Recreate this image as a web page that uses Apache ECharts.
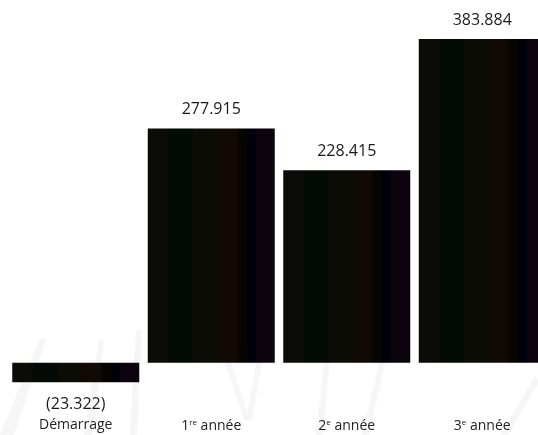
<!DOCTYPE html>
<html>
<head>
<meta charset="utf-8">
<script src="https://cdn.jsdelivr.net/npm/echarts@6/dist/echarts.min.js"></script>
<style>
  html, body { margin: 0; padding: 0; background: #ffffff; }
  #chart { width: 538px; height: 435px; }
</style>
</head>
<body>
<div id="chart"></div>
<script>
// Résultat par période
const categories = ['Démarrage', '1re année', '2e année', '3e année'];
const ordinals = ['', '1', '2', '3'];
const ordinalSuffix = ['', 're', 'e', 'e'];
const values = [-23.322, 277.915, 228.415, 383.884];

// Dark bar fill with faint vertical colour bands
const bands = [
  [0.00, '#0b0b09'], [0.16, '#0b0b09'],
  [0.16, '#040b07'], [0.36, '#040b07'],
  [0.36, '#0b0c06'], [0.55, '#0b0c06'],
  [0.55, '#120904'], [0.70, '#120904'],
  [0.70, '#080400'], [0.78, '#080400'],
  [0.78, '#00000a'], [0.85, '#00000a'],
  [0.85, '#0d030f'], [1.00, '#0d030f']
];
const barFill = new echarts.graphic.LinearGradient(0, 0, 1, 0,
  bands.map(b => ({ offset: b[0], color: b[1] })));

function fmt(v) {
  const s = Math.abs(v).toFixed(3);
  return v < 0 ? '(' + s + ')' : s;
}

// Faint background strokes
const strokes = [
  [[0, 435], [14, 435], [46, 340], [40, 338]],
  [[84, 435], [92, 435], [104, 340], [99, 340]],
  [[130, 435], [137, 435], [142, 330], [136, 330]],
  [[214, 330], [220, 330], [250, 420], [244, 420]],
  [[262, 330], [268, 330], [252, 420], [246, 420]],
  [[316, 435], [323, 435], [330, 360], [324, 360]],
  [[362, 435], [369, 435], [388, 350], [382, 350]],
  [[500, 435], [508, 435], [540, 380], [535, 376]]
];

const chart = echarts.init(document.getElementById('chart'), null, { renderer: 'canvas' });
chart.setOption({
  backgroundColor: '#ffffff',
  animation: false,
  graphic: strokes.map(p => ({
    type: 'polygon', z: -10, silent: true,
    shape: { points: p },
    style: { fill: '#f6f6f6' }
  })),
  grid: { left: 8, width: 542, top: 25.5, bottom: 38.6, containLabel: false, outerBoundsMode: 'none' },
  xAxis: {
    type: 'category',
    data: categories,
    axisLine: { show: false, onZero: false },
    axisTick: { show: false },
    axisLabel: {
      margin: 22,
      interval: 0,
      fontFamily: 'Open Sans',
      fontSize: 14,
      color: '#222222',
      formatter: function (v, i) {
        if (!ordinals[i]) return '{n|' + v + '}';
        return '{n|' + ordinals[i] + '}{sup|' + ordinalSuffix[i] + '}{n| année}';
      },
      rich: {
        n: { fontFamily: 'Open Sans', fontSize: 14, color: '#222222' },
        sup: { fontFamily: 'Open Sans', fontSize: 8, color: '#222222', verticalAlign: 'top', padding: [0, 0, 8, 0] }
      }
    }
  },
  yAxis: {
    type: 'value',
    min: -40,
    max: 400,
    show: false,
    splitLine: { show: false }
  },
  series: [{
    type: 'bar',
    data: values.map(v => ({
      value: v,
      label: v < 0 ? { position: 'bottom', distance: 14 } : { position: 'top', distance: 11 }
    })),
    barWidth: 127,
    itemStyle: { color: barFill },
    label: {
      show: true,
      fontFamily: 'Open Sans',
      fontSize: 16,
      color: '#1a1a1a',
      formatter: p => fmt(p.value)
    }
  }]
});
</script>
</body>
</html>
